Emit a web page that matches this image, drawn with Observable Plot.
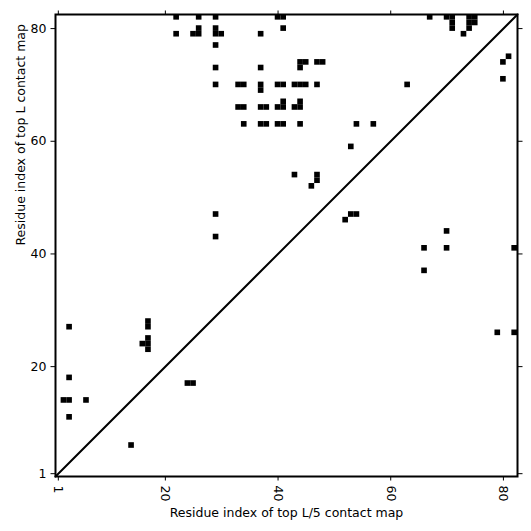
<!DOCTYPE html>
<html><head><meta charset="utf-8">
<script src="https://cdn.jsdelivr.net/npm/d3@7"></script>
<script src="https://cdn.jsdelivr.net/npm/@observablehq/plot@0.6"></script>
<style>body{margin:0;background:#fff}</style>
</head><body><div id="chart"></div>
<script>
// sequence length
const L = 82;
const tickValues = [1, 20, 40, 60, 80];
const xLabel = "Residue index of top L/5 contact map";
const yLabel = "Residue index of top L contact map";

// top L contacts (upper-left triangle): residue i (x), residue j (y)
const topL_x = [22,26,29,40,41,67,70,71,74,75, 71,74,75, 26,29,41,71,74, 22,25,26,29,30,37,73, 29, 44,45,47,48, 29,37,44,
  29,33,34,37,40,41,43,44,45,47,63, 37, 41,44, 33,34,37,38,40,41,43,44, 34,37,38,40,41,44,54,57, 53, 43,47, 47, 46, 29, 29,
  17, 3,17, 17, 16,17, 17, 3, 2,3,6, 3];
const topL_y = [82,82,82,82,82,82,82,82,82,82, 81,81,81, 80,80,80,80,80, 79,79,79,79,79,79,79, 77, 74,74,74,74, 73,73,73,
  70,70,70,70,70,70,70,70,70,70,70, 69, 67,67, 66,66,66,66,66,66,66,66, 63,63,63,63,63,63,63,63, 59, 54,54, 53, 52, 47, 43,
  28, 27,27, 25, 24,24, 23, 18, 14,14,14, 11];

// top L/5 contacts (lower-right triangle)
const topL5_x = [80,81,80,70,70,66,82,66,79,82,53,54,52,24,25,14];
const topL5_y = [74,75,71,44,41,41,41,37,26,26,47,47,46,17,17,6];

const cells = [
  ...topL_x.map((x, k) => ({x, y: topL_y[k]})),
  ...topL5_x.map((x, k) => ({x, y: topL5_y[k]}))
];
const domain = [0.5, L + 0.5];
const diag = domain.map(v => ({x: v, y: v}));

const chart = Plot.plot({
  width: 531,
  height: 531,
  marginLeft: 55,
  marginRight: 14,
  marginTop: 14,
  marginBottom: 55,
  style: {fontFamily: "DejaVu Sans", fontSize: "12.5px", color: "#000", background: "#fff"},
  x: {domain, label: null},
  y: {domain, label: null},
  marks: [
    Plot.rect(cells, {x1: d => d.x - 0.5, x2: d => d.x + 0.5, y1: d => d.y - 0.5, y2: d => d.y + 0.5, fill: "#000"}),
    Plot.line(diag, {x: "x", y: "y", stroke: "#000", strokeWidth: 2}),
    Plot.frame({stroke: "#000", strokeWidth: 2}),
    Plot.axisX({anchor: "bottom", ticks: tickValues, tickSize: 4.5, tickPadding: 4.5, tickRotate: 90, label: null}),
    Plot.axisX({anchor: "top", ticks: tickValues, tickSize: 4.5, tickFormat: () => "", label: null}),
    Plot.axisY({anchor: "left", ticks: tickValues, tickSize: 4.5, tickPadding: 4.5, label: null}),
    Plot.axisY({anchor: "right", ticks: tickValues, tickSize: 4.5, tickFormat: () => "", label: null}),
    Plot.text([xLabel], {frameAnchor: "bottom", dy: 40, text: d => d, fill: "#000"}),
    Plot.text([yLabel], {frameAnchor: "left", rotate: -90, dx: -35, text: d => d, fill: "#000"})
  ]
});
document.getElementById("chart").append(chart);
</script>
</body></html>
